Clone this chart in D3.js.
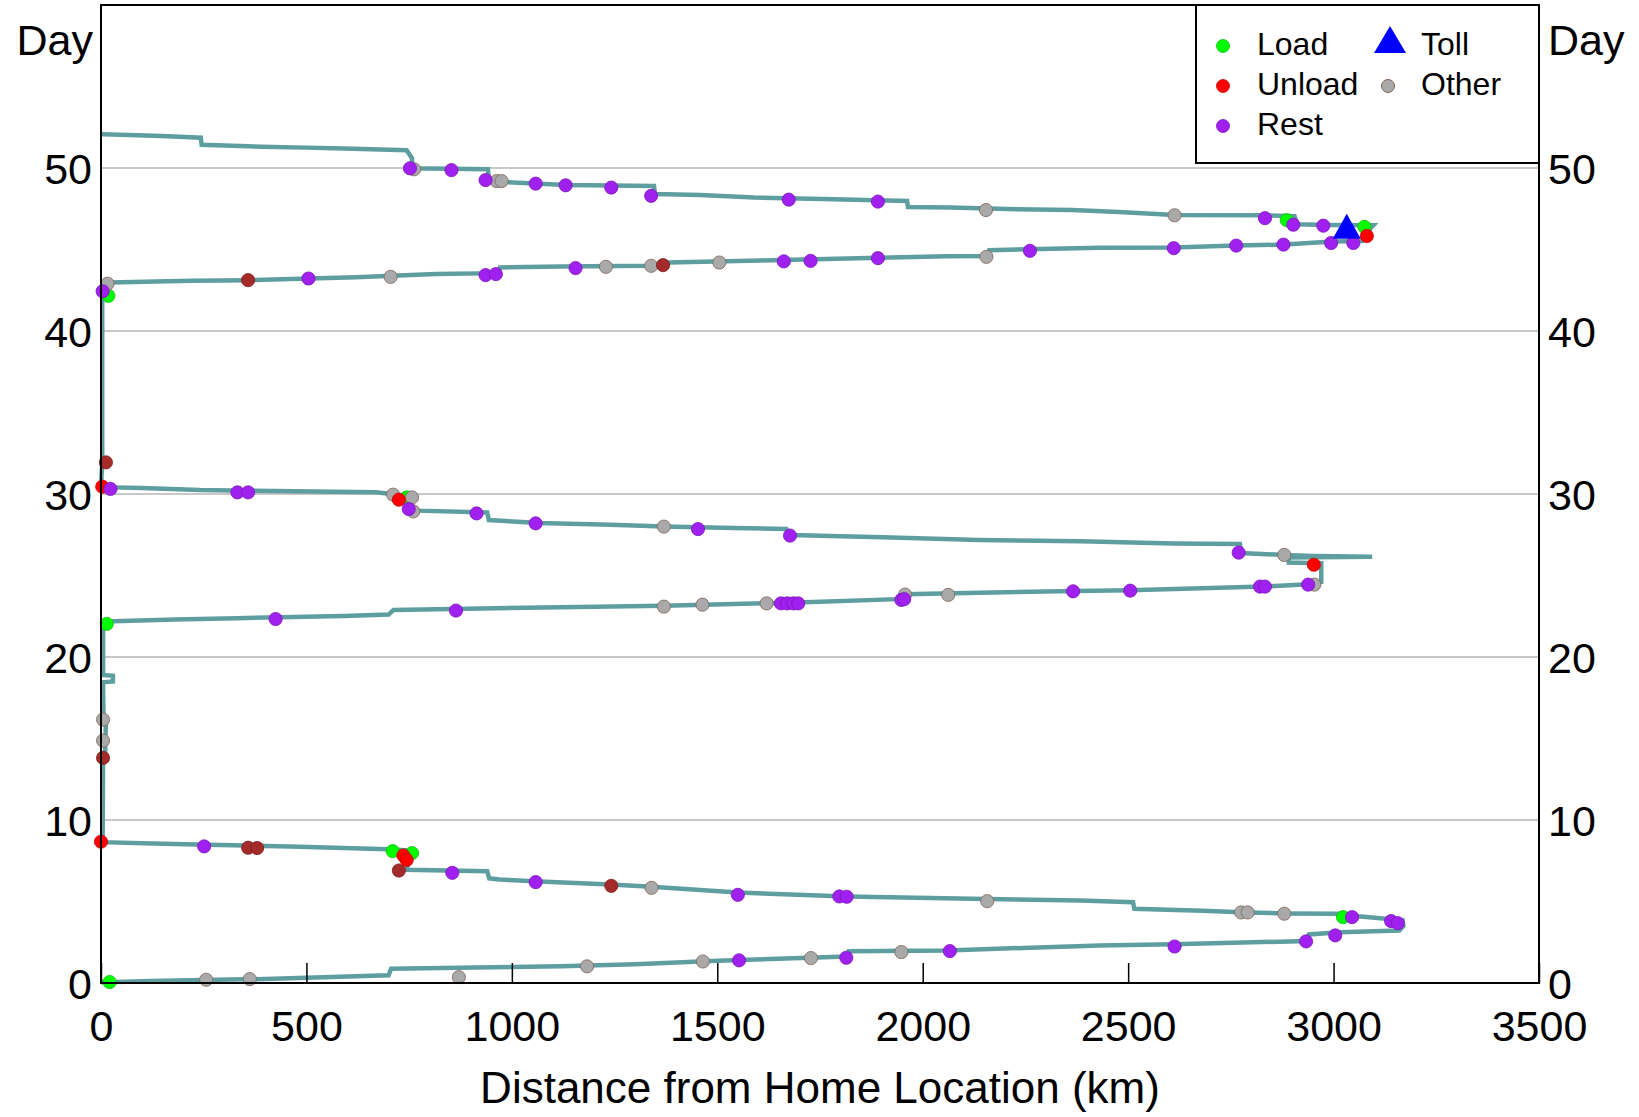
<!DOCTYPE html>
<html>
<head>
<meta charset="utf-8">
<script src="https://cdn.jsdelivr.net/npm/d3@7"></script>
<style>
  html, body { margin: 0; padding: 0; background: #fff; }
  svg { display: block; font-family: "Liberation Sans", Arial, sans-serif; }
</style>
</head>
<body>
<svg id="chart" width="1639" height="1117"></svg>
<script>
// ---------------- data ----------------
const xTicks = [0, 500, 1000, 1500, 2000, 2500, 3000, 3500];
const yTicks = [0, 10, 20, 30, 40, 50];
const gridDays = [10, 20, 30, 40, 50];

// trajectory legs: [distance km, day]
const leg1Out = [[0,0.05],[15,0.05],[120,0.12],[400,0.25],[700,0.47],[706,0.88],[1000,0.98],[1120,1.02],[1300,1.15],[1500,1.37],[1815,1.62],[1820,1.95],[2060,2.0],[2300,2.2],[2430,2.3],[2610,2.37],[2935,2.58],[2940,2.98],[3016,3.12],[3160,3.22],[3170,3.5]];
const leg1Back = [[3168,3.85],[3100,4.0],[3060,4.1],[3016,4.25],[2880,4.27],[2790,4.33],[2680,4.43],[2515,4.55],[2512,4.96],[2383,5.06],[2155,5.15],[1815,5.31],[1550,5.55],[1340,5.9],[1240,6.05],[1068,6.22],[970,6.35],[945,6.42],[940,6.86],[745,6.95],[748,7.6],[745,8.13],[700,8.2],[590,8.28],[460,8.37],[150,8.54],[0,8.64]];
const homeStayA = [[4,9.0],[5,13.6],[10,14.0],[12,16.2],[6,16.5],[5,18.45],[29,18.5],[29,18.85],[5,18.9],[5,21.9],[14,22.05]];
const leg2Out = [[30,22.2],[180,22.3],[330,22.38],[590,22.52],[700,22.6],[712,22.89],[1117,23.05],[1370,23.15],[1677,23.33],[1940,23.55],[1955,23.85],[2370,24.05],[2505,24.1],[2830,24.32],[2950,24.48],[2970,24.6],[2970,25.75],[2891,25.8],[2891,26.1],[3094,26.15]];
const leg2Back = [[2950,26.2],[2880,26.26],[2775,26.38],[2772,26.93],[2610,26.97],[2460,27.05],[2383,27.1],[2137,27.18],[1903,27.34],[1677,27.48],[1668,27.85],[1540,27.92],[1370,28.0],[1240,28.12],[1068,28.22],[944,28.4],[940,28.87],[770,28.98],[757,29.1],[757,29.85],[720,29.95],[670,30.1],[520,30.16],[360,30.2],[240,30.24],[100,30.37],[0,30.42]];
const homeStayB = [[3,32.0],[3,42.3]];
const leg3Out = [[5,42.9],[20,42.97],[220,43.08],[360,43.12],[620,43.3],[814,43.5],[968,43.55],[971,43.9],[1120,43.95],[1329,44.0],[1378,44.05],[1381,44.2],[1606,44.33],[1842,44.47],[2059,44.58],[2159,44.6],[2162,44.96],[2432,45.1],[2611,45.12],[2762,45.24],[2880,45.3],[2999,45.49],[3070,45.52],[3090,46.3],[3097,46.49]];
const leg3Back = [[2990,46.5],[2911,46.55],[2905,47.05],[2830,47.1],[2613,47.12],[2478,47.3],[2364,47.42],[2229,47.47],[2068,47.57],[1964,47.6],[1962,47.98],[1755,48.1],[1589,48.19],[1459,48.35],[1348,48.4],[1346,48.9],[1131,48.96],[1068,49.04],[975,49.15],[944,49.25],[942,49.93],[757,49.98],[757,50.6],[744,51.09],[592,51.2],[497,51.25],[392,51.31],[245,51.42],[243,51.86],[149,51.97],[5,52.07],[0,52.07]];

// events: [distance km, day]
const loadEvents = [[21,0.06],[710,8.09],[757,7.97],[3023,4.04],[14,22.03],[744,29.79],[18,42.16],[2886,46.8],[3075,46.39]];
const otherEvents = [[256,0.2],[362,0.24],[871,0.36],[1183,1.02],[1465,1.32],[1728,1.53],[1948,1.9],[2775,4.33],[2791,4.33],[2880,4.25],[2157,5.02],[1340,5.84],[5,16.16],[5,14.87],[711,29.96],[757,29.79],[760,28.93],[1370,28.0],[2880,26.26],[2953,24.44],[1370,23.09],[1464,23.21],[1620,23.29],[1957,23.83],[2062,23.81],[16,42.9],[705,43.32],[1229,43.94],[1339,44.0],[1505,44.2],[2155,44.55],[2613,47.1],[2154,47.42],[963,49.2],[975,49.2],[762,49.92]];
const unlabeledEvents = [[725,6.9],[1242,5.96],[358,8.3],[380,8.28],[5,13.81],[12,31.94],[358,43.12],[1368,44.04]];
const unloadEvents = [[0,8.67],[736,7.82],[744,7.55],[725,29.65],[2952,25.66],[3,30.45],[3081,45.83]];
const restEvents = [[1553,1.39],[1814,1.55],[2066,1.96],[2613,2.24],[2933,2.55],[3004,2.92],[3045,4.04],[3140,3.8],[3156,3.67],[1797,5.31],[1815,5.29],[1550,5.41],[1058,6.19],[855,6.76],[251,8.38],
  [23,30.31],[332,30.1],[358,30.1],[749,29.08],[914,28.81],[1058,28.2],[1453,27.85],[1677,27.45],[2769,26.4],[425,22.33],[864,22.85],[1655,23.29],[1670,23.29],[1685,23.29],[1697,23.29],[1948,23.5],[1955,23.55],[2366,24.03],[2505,24.07],[2821,24.32],[2833,24.32],[2938,24.44],
  [4,42.44],[505,43.22],[936,43.43],[961,43.49],[1155,43.86],[1662,44.27],[1727,44.3],[1891,44.47],[2261,44.92],[2611,45.08],[2763,45.24],[2878,45.3],[2994,45.4],[3048,45.4],[2975,46.46],[2902,46.52],[2833,46.92],[1891,47.94],[1674,48.06],[1339,48.29],[1242,48.8],[1131,48.94],[1058,49.04],[936,49.26],[853,49.87],[752,49.98]];
const tollEvents = [[3032,46.4]];

const legendLeft = ["Load", "Unload", "Rest"];
const legendRight = ["Toll", "Other"];

// ---------------- drawing ----------------
const svg = d3.select("#chart");
const W = 1639, H = 1117;
const m = {left: 101, right: 100, top: 5, bottom: 134};
const x = d3.scaleLinear().domain([0, 3500]).range([m.left, W - m.right]);
const y = d3.scaleLinear().domain([0, 60]).range([H - m.bottom, m.top]);

const colors = {load: "#00ff00", unload: "#ff0000", rest: "#a020f0", other: "#a9a9a9", brown: "#a52a2a", toll: "#0000ff"};
const strokes = {load: "#11bb11", unload: "#cc0000", rest: "#7a18b8", other: "#7d6458", brown: "#7a1f1f"};
const fontTick = 43;

// gridlines
svg.append("g").selectAll("line").data(gridDays).join("line")
  .attr("x1", x(0)).attr("x2", x(3500))
  .attr("y1", d => y(d)).attr("y2", d => y(d))
  .attr("stroke", "#c8c8c8").attr("stroke-width", 2);

// trajectory
const track = [].concat(leg1Out, leg1Back, homeStayA, leg2Out, leg2Back, homeStayB, leg3Out, leg3Back);
const line = d3.line().x(d => x(d[0])).y(d => y(d[1]));
svg.append("path").datum(track)
  .attr("d", line).attr("fill", "none")
  .attr("stroke", "#5f9ea0").attr("stroke-width", 4.5)
  .attr("stroke-linejoin", "miter").attr("stroke-linecap", "butt");

// points
function dots(data, key) {
  svg.append("g").selectAll("circle").data(data).join("circle")
    .attr("cx", d => x(d[0])).attr("cy", d => y(d[1])).attr("r", 6.6)
    .attr("fill", colors[key]).attr("stroke", strokes[key]).attr("stroke-width", 0.8);
}
dots(loadEvents, "load");
dots(otherEvents, "other");
dots(unlabeledEvents, "brown");
dots(unloadEvents, "unload");
dots(restEvents, "rest");

const tri = "M0,-13L14,12L-14,12Z";
svg.append("g").selectAll("path").data(tollEvents).join("path")
  .attr("d", tri).attr("transform", d => `translate(${x(d[0])},${y(d[1])})`)
  .attr("fill", colors.toll);

// frame
svg.append("rect").attr("x", x(0)).attr("y", y(60))
  .attr("width", x(3500) - x(0)).attr("height", y(0) - y(60))
  .attr("fill", "none").attr("stroke", "#000").attr("stroke-width", 2);

// x axis
const xAxis = d3.axisBottom(x).tickValues(xTicks).tickFormat(d3.format("d"))
  .tickSizeInner(-20).tickSizeOuter(0).tickPadding(27);
const gx = svg.append("g").attr("transform", `translate(0,${y(0)})`).call(xAxis);
gx.select(".domain").remove();
gx.selectAll(".tick line").attr("stroke", "#000").attr("stroke-width", 1.5);
gx.selectAll(".tick text").attr("font-size", fontTick).attr("fill", "#000")
  .attr("font-family", "Liberation Sans, Arial, sans-serif");

// y axes
const yAxisL = d3.axisLeft(y).tickValues(yTicks).tickSize(0).tickPadding(9);
const gyl = svg.append("g").attr("transform", `translate(${x(0)},0)`).call(yAxisL);
gyl.select(".domain").remove();
gyl.selectAll(".tick text").attr("font-size", fontTick).attr("fill", "#000").attr("dy", "0.35em")
  .attr("font-family", "Liberation Sans, Arial, sans-serif");

const yAxisR = d3.axisRight(y).tickValues(yTicks).tickSize(0).tickPadding(9);
const gyr = svg.append("g").attr("transform", `translate(${x(3500)},0)`).call(yAxisR);
gyr.select(".domain").remove();
gyr.selectAll(".tick text").attr("font-size", fontTick).attr("fill", "#000").attr("dy", "0.35em")
  .attr("font-family", "Liberation Sans, Arial, sans-serif");

// "Day" labels
svg.append("text").attr("x", x(0) - 8).attr("y", 55).attr("text-anchor", "end")
  .attr("font-size", fontTick).text("Day");
svg.append("text").attr("x", x(3500) + 9).attr("y", 55).attr("text-anchor", "start")
  .attr("font-size", fontTick).text("Day");

// x title
svg.append("text").attr("x", (x(0) + x(3500)) / 2).attr("y", 1103).attr("text-anchor", "middle")
  .attr("font-size", 44).text("Distance from Home Location (km)");

// legend
const lg = svg.append("g");
lg.append("rect").attr("x", 1196).attr("y", y(60)).attr("width", x(3500) - 1196).attr("height", 163 - y(60))
  .attr("fill", "#fff").attr("stroke", "#000").attr("stroke-width", 2);
const leftKeys = ["load", "unload", "rest"];
legendLeft.forEach((t, i) => {
  lg.append("circle").attr("cx", 1223).attr("cy", 46 + i * 40).attr("r", 6.5)
    .attr("fill", colors[leftKeys[i]]).attr("stroke", strokes[leftKeys[i]]).attr("stroke-width", 0.8);
  lg.append("text").attr("x", 1257).attr("y", 55 + i * 40).attr("font-size", 32).text(t);
});
lg.append("path").attr("d", "M0,-14L16,13L-16,13Z").attr("transform", "translate(1390,40)").attr("fill", colors.toll);
lg.append("text").attr("x", 1421).attr("y", 55).attr("font-size", 32).text(legendRight[0]);
lg.append("circle").attr("cx", 1388).attr("cy", 86).attr("r", 6.5)
  .attr("fill", colors.other).attr("stroke", strokes.other).attr("stroke-width", 1);
lg.append("text").attr("x", 1421).attr("y", 95).attr("font-size", 32).text(legendRight[1]);
</script>
</body>
</html>
